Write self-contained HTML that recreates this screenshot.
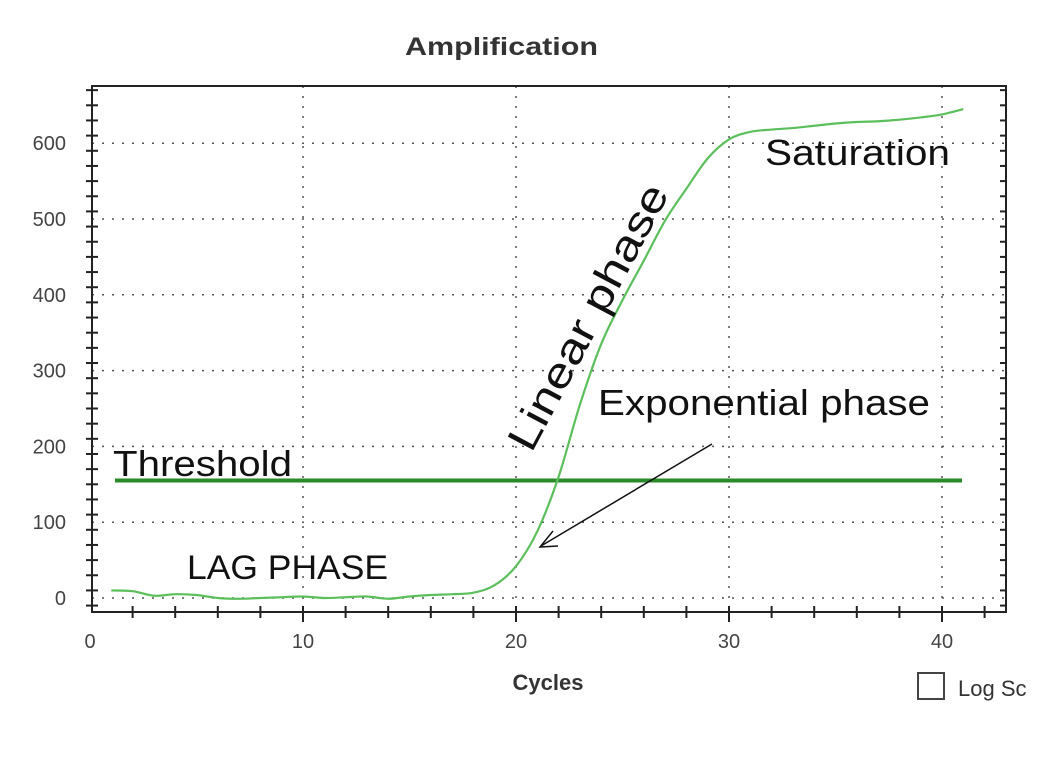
<!DOCTYPE html>
<html><head><meta charset="utf-8"><style>
html,body{margin:0;padding:0;background:#fff;}
svg{display:block;font-family:"Liberation Sans",sans-serif;}
</style></head><body>
<svg id="chart" width="1046" height="765" viewBox="0 0 1046 765" xmlns="http://www.w3.org/2000/svg">
<text x="405" y="55" font-size="25" font-weight="bold" fill="#333" textLength="193" lengthAdjust="spacingAndGlyphs">Amplification</text>
<text x="-8" y="340" font-size="30" fill="#1a5fa8" transform="rotate(-90 4 345)">RFU</text>
<rect x="92" y="86" width="914" height="526" fill="#fff"/>
<g id="grid"></g>
<g id="axes"></g>
<g id="marks"></g>
<text x="113" y="476" font-size="36" fill="#111" textLength="179" lengthAdjust="spacingAndGlyphs">Threshold</text>
<text x="187" y="579" font-size="34" fill="#111" textLength="201" lengthAdjust="spacingAndGlyphs">LAG PHASE</text>
<text x="765" y="165" font-size="36" fill="#111" textLength="185" lengthAdjust="spacingAndGlyphs">Saturation</text>
<text x="598" y="415" font-size="36" fill="#111" textLength="332" lengthAdjust="spacingAndGlyphs">Exponential phase</text>
<text x="590" y="330" font-size="42" fill="#111" text-anchor="middle" textLength="295" lengthAdjust="spacingAndGlyphs" transform="rotate(-62 590 318)">Linear phase</text>
<line x1="712" y1="444" x2="541" y2="546" stroke="#111" stroke-width="1.5"/>
<polyline points="553,531 540,547 558,546" fill="none" stroke="#111" stroke-width="1.5"/>
<text x="548" y="690" text-anchor="middle" font-size="22" font-weight="bold" fill="#333">Cycles</text>
<rect x="918" y="673" width="26" height="26" fill="#fff" stroke="#444" stroke-width="2"/>
<text x="958" y="696" font-size="22" fill="#333">Log Sc</text>
</svg>
<script>
const cycles=[1,2,3,4,5,6,7,8,9,10,11,12,13,14,15,16,17,18,19,20,21,22,23,24,25,26,27,28,29,30,31,32,33,34,35,36,37,38,39,40,41];
const fluorescence=[10,9,3,5,4,0,-1,0,1,2,0,1,2,-1,2,4,5,7,17,42,88,160,255,335,393,445,498,540,580,605,615,618,620,623,626,628,629,631,634,638,645];
const threshold=[155];
const xTicks=[0,10,20,30,40];
const yTicks=[0,100,200,300,400,500,600];
const NS="http://www.w3.org/2000/svg";
const L=92,R=1006,T=86,B=612;
const xs=v=>90+v*21.3;
const ys=v=>598-v*0.758;
function mk(tag,attrs,parent){const e=document.createElementNS(NS,tag);for(const k in attrs)e.setAttribute(k,attrs[k]);parent.appendChild(e);return e;}
const grid=document.getElementById('grid'),axes=document.getElementById('axes'),marks=document.getElementById('marks');
mk('rect',{x:L,y:T,width:R-L,height:B-T,fill:'none',stroke:'#222','stroke-width':2},axes);
xTicks.forEach(t=>{
 if(t>0){const g=mk('line',{x1:xs(t),x2:xs(t),y1:T,y2:B,stroke:'#555','stroke-width':1.5,'stroke-dasharray':'2 8'},grid);
 }
 const l=mk('text',{x:xs(t),y:648,'text-anchor':'middle','font-size':20,fill:'#444'},axes);
 
 l.textContent=t;
});
yTicks.forEach(t=>{
 const g=mk('line',{x1:L,x2:R,y1:ys(t),y2:ys(t),stroke:'#555','stroke-width':1.5,'stroke-dasharray':'2 8'},grid);
 
 const l=mk('text',{x:66,y:ys(t)+7,'text-anchor':'end','font-size':20,fill:'#444'},axes);
 
 l.textContent=t;
});
for(let c=2;c<=42;c+=2){mk('line',{x1:xs(c),x2:xs(c),y1:B-6,y2:B+(c%10==0?10:6),stroke:'#222','stroke-width':2},axes);}
for(let v=-10;v<=680;v+=20){mk('line',{x1:L-(v%100==0?10:6),x2:L+6,y1:ys(v),y2:ys(v),stroke:'#222','stroke-width':2},axes);}
for(let v=-10;v<=680;v+=20){mk('line',{x1:R-6,x2:R,y1:ys(v),y2:ys(v),stroke:'#222','stroke-width':2},axes);}
const th=mk('line',{x1:115,x2:962,y1:ys(threshold[0]),y2:ys(threshold[0]),stroke:'#2a8a2a','stroke-width':4},marks);

const pts=cycles.map((c,i)=>[xs(c),ys(fluorescence[i])]);
let d='M'+pts[0][0]+','+pts[0][1];
for(let i=1;i<pts.length;i++){const p0=pts[i-2]||pts[i-1],p1=pts[i-1],p2=pts[i],p3=pts[i+1]||p2;
 d+=` C${p1[0]+(p2[0]-p0[0])/6},${p1[1]+(p2[1]-p0[1])/6} ${p2[0]-(p3[0]-p1[0])/6},${p2[1]-(p3[1]-p1[1])/6} ${p2[0]},${p2[1]}`;}
const cv=mk('path',{d:d,fill:'none',stroke:'#5cbf5c','stroke-width':2.2},marks);

</script>
</body></html>
